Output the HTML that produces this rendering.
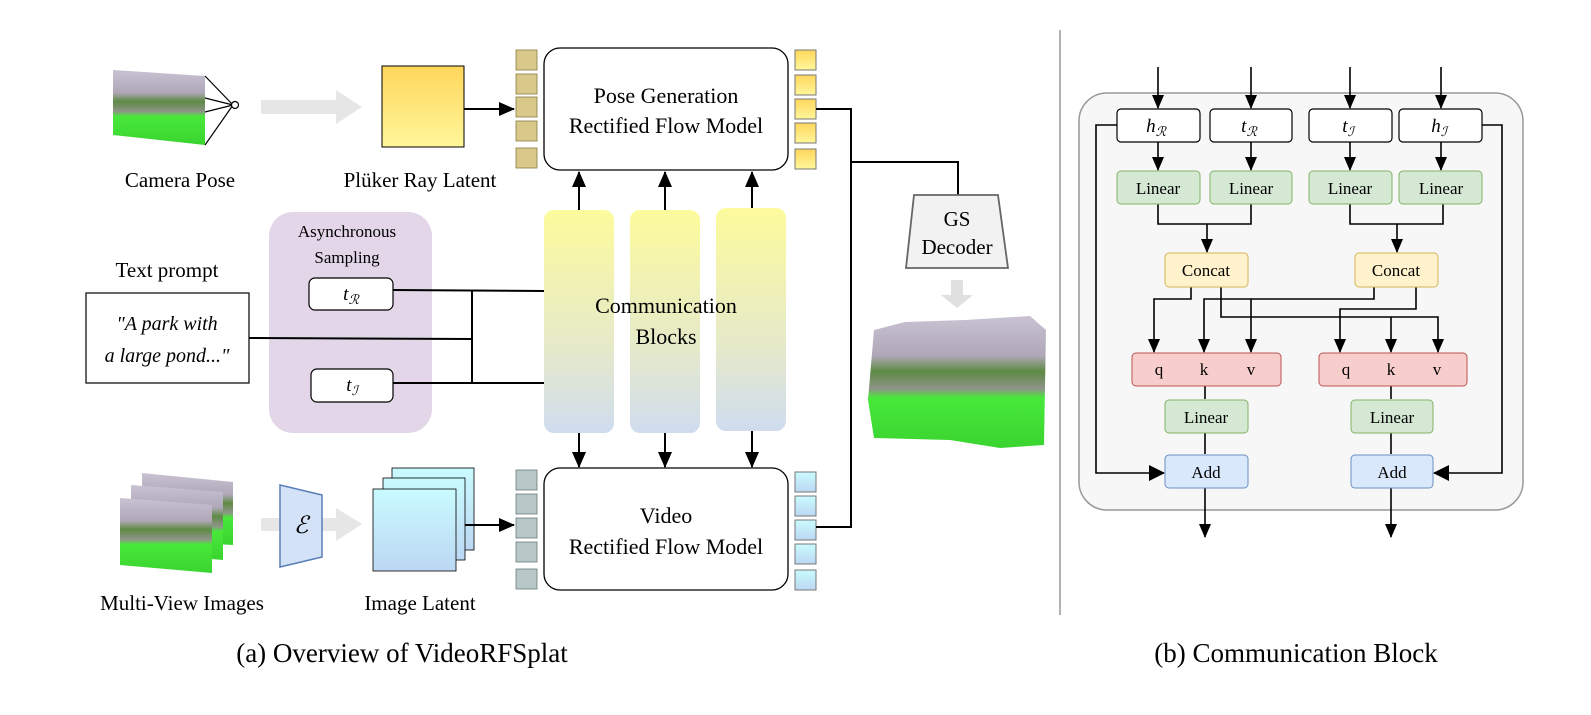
<!DOCTYPE html>
<html><head><meta charset="utf-8"><style>
body{margin:0;background:#fff}
svg{display:block;font-family:"Liberation Serif",serif}
</style></head><body>
<svg width="1591" height="715" viewBox="0 0 1591 715" xmlns="http://www.w3.org/2000/svg">
<defs>
<marker id="ah" markerWidth="16" markerHeight="14" refX="15" refY="7" orient="auto" markerUnits="userSpaceOnUse"><path d="M0,0 L16,7 L0,14 z" fill="#000"/></marker>
<marker id="ahs" markerWidth="14" markerHeight="12" refX="13" refY="6" orient="auto" markerUnits="userSpaceOnUse"><path d="M0,0 L14,6 L0,12 z" fill="#000"/></marker>
<marker id="ahb" markerWidth="16" markerHeight="16" refX="15" refY="8" orient="auto" markerUnits="userSpaceOnUse"><path d="M0,0 L16,8 L0,16 z" fill="#000"/></marker>
<linearGradient id="yel" x1="0" y1="0" x2="0" y2="1"><stop offset="0" stop-color="#ffd65c"/><stop offset="1" stop-color="#fff79a"/></linearGradient>
<linearGradient id="cyan" x1="0" y1="0" x2="0" y2="1"><stop offset="0" stop-color="#c9fbff"/><stop offset="1" stop-color="#bcd7f2"/></linearGradient>
<linearGradient id="comm" x1="0" y1="0" x2="0" y2="1"><stop offset="0" stop-color="#fdfb9c"/><stop offset="0.6" stop-color="#e6eac8"/><stop offset="1" stop-color="#cfdcef"/></linearGradient>
<linearGradient id="scene" x1="0" y1="0" x2="0" y2="1"><stop offset="0" stop-color="#c8c2d2"/><stop offset="0.3" stop-color="#b0a8b8"/><stop offset="0.42" stop-color="#5e8a44"/><stop offset="0.55" stop-color="#8e9488"/><stop offset="0.62" stop-color="#48e83a"/><stop offset="1" stop-color="#3ad430"/></linearGradient>
</defs>

<!-- Camera pose -->
<path d="M113,70 L205,76 L205,145 L113,135 z" fill="url(#scene)"/>
<g stroke="#000" stroke-width="1.2" fill="none">
<line x1="205" y1="76" x2="233" y2="105"/><line x1="205" y1="145" x2="233" y2="105"/>
<line x1="205" y1="98" x2="233" y2="105"/><line x1="205" y1="112" x2="233" y2="105"/>
<circle cx="235" cy="105" r="3.5" fill="#fff"/>
</g>
<text x="180" y="187" font-size="21" text-anchor="middle">Camera Pose</text>
<path d="M261,100 L336,100 L336,90 L362,107 L336,124 L336,114 L261,114 z" fill="#e6e6e6"/>
<rect x="382" y="66" width="82" height="81" fill="url(#yel)" stroke="#000" stroke-width="1"/>
<text x="420" y="187" font-size="21" text-anchor="middle">Plüker Ray Latent</text>
<line x1="464" y1="109" x2="514" y2="109" stroke="#000" stroke-width="2" marker-end="url(#ah)"/>
<g fill="#d8c98a" stroke="#8a7a40" stroke-width="0.8">
<rect x="516" y="50" width="21" height="20"/><rect x="516" y="74" width="21" height="20"/><rect x="516" y="97" width="21" height="20"/><rect x="516" y="121" width="21" height="20"/><rect x="516" y="148" width="21" height="20"/>
</g>
<rect x="544" y="48" width="244" height="122" rx="16" fill="#fff" stroke="#000" stroke-width="1.3"/>
<text x="666" y="103" font-size="22" text-anchor="middle">Pose Generation</text>
<text x="666" y="133" font-size="22" text-anchor="middle">Rectified Flow Model</text>
<g fill="url(#yel)" stroke="#777" stroke-width="1">
<rect x="795" y="50" width="21" height="20"/><rect x="795" y="75" width="21" height="20"/><rect x="795" y="99" width="21" height="20"/><rect x="795" y="123" width="21" height="20"/><rect x="795" y="149" width="21" height="20"/>
</g>

<!-- Communication blocks -->
<rect x="544" y="210" width="70" height="223" rx="10" fill="url(#comm)"/>
<rect x="630" y="210" width="70" height="223" rx="10" fill="url(#comm)"/>
<rect x="716" y="208" width="70" height="223" rx="10" fill="url(#comm)"/>
<text x="666" y="313" font-size="22" text-anchor="middle">Communication</text>
<text x="666" y="344" font-size="22" text-anchor="middle">Blocks</text>
<g stroke="#000" stroke-width="2">
<line x1="579" y1="210" x2="579" y2="172" marker-end="url(#ah)"/>
<line x1="665" y1="210" x2="665" y2="172" marker-end="url(#ah)"/>
<line x1="752" y1="208" x2="752" y2="172" marker-end="url(#ah)"/>
<line x1="579" y1="433" x2="579" y2="467" marker-end="url(#ah)"/>
<line x1="665" y1="433" x2="665" y2="467" marker-end="url(#ah)"/>
<line x1="752" y1="431" x2="752" y2="467" marker-end="url(#ah)"/>
</g>

<!-- Async sampling -->
<rect x="269" y="212" width="163" height="221" rx="24" fill="#e2d6e8"/>
<text x="347" y="237" font-size="17" text-anchor="middle">Asynchronous</text>
<text x="347" y="263" font-size="17" text-anchor="middle">Sampling</text>
<text x="167" y="277" font-size="21" text-anchor="middle">Text prompt</text>
<rect x="86" y="293" width="163" height="90" fill="#fff" stroke="#000" stroke-width="1.2"/>
<text x="167" y="330" font-size="20" font-style="italic" text-anchor="middle">"A park with</text>
<text x="167" y="362" font-size="20" font-style="italic" text-anchor="middle">a large pond..."</text>
<g stroke="#000" stroke-width="2" fill="none">
<line x1="393" y1="290" x2="544" y2="291"/>
<line x1="249" y1="338" x2="472" y2="339"/>
<line x1="393" y1="383" x2="544" y2="383"/>
<line x1="472" y1="290" x2="472" y2="383"/>
</g>
<rect x="309" y="278" width="84" height="32" rx="6" fill="#fff" stroke="#000" stroke-width="1.2"/>
<text x="351" y="300" font-size="19" text-anchor="middle" font-style="italic">t<tspan font-size="13" dy="4">ℛ</tspan></text>
<rect x="311" y="369" width="82" height="33" rx="6" fill="#fff" stroke="#000" stroke-width="1.2"/>
<text x="352" y="391" font-size="19" text-anchor="middle" font-style="italic">t<tspan font-size="13" dy="4">ℐ</tspan></text>

<!-- Multi-view -->
<path d="M142,473 L233,482 L233,545 L142,540 z" fill="url(#scene)"/>
<path d="M131,485 L223,492 L223,560 L131,552 z" fill="url(#scene)"/>
<path d="M120,498 L212,505 L212,573 L120,565 z" fill="url(#scene)"/>
<text x="182" y="610" font-size="21" text-anchor="middle">Multi-View Images</text>
<path d="M261,518 L336,518 L336,508 L362,524 L336,541 L336,531 L261,531 z" fill="#e6e6e6"/>
<path d="M280,485 L322,495 L322,557 L280,567 z" fill="#d3e2f6" stroke="#5a7fb8" stroke-width="1.5"/>
<text x="301" y="533" font-size="24" font-style="italic" text-anchor="middle">ℰ</text>
<rect x="392" y="468" width="82" height="82" fill="url(#cyan)" stroke="#000" stroke-width="0.8"/>
<rect x="383" y="478" width="82" height="82" fill="url(#cyan)" stroke="#000" stroke-width="0.8"/>
<rect x="373" y="489" width="83" height="82" fill="url(#cyan)" stroke="#000" stroke-width="0.8"/>
<text x="420" y="610" font-size="21" text-anchor="middle">Image Latent</text>
<line x1="465" y1="525" x2="514" y2="525" stroke="#000" stroke-width="2" marker-end="url(#ah)"/>
<g fill="#b8c8c8" stroke="#6a7a7a" stroke-width="0.8">
<rect x="516" y="470" width="21" height="20"/><rect x="516" y="494" width="21" height="20"/><rect x="516" y="518" width="21" height="20"/><rect x="516" y="542" width="21" height="20"/><rect x="516" y="569" width="21" height="20"/>
</g>
<rect x="544" y="468" width="244" height="122" rx="16" fill="#fff" stroke="#000" stroke-width="1.3"/>
<text x="666" y="523" font-size="22" text-anchor="middle">Video</text>
<text x="666" y="554" font-size="22" text-anchor="middle">Rectified Flow Model</text>
<g fill="url(#cyan)" stroke="#777" stroke-width="1">
<rect x="795" y="472" width="21" height="20"/><rect x="795" y="496" width="21" height="20"/><rect x="795" y="520" width="21" height="20"/><rect x="795" y="544" width="21" height="20"/><rect x="795" y="570" width="21" height="20"/>
</g>

<!-- GS decoder -->
<g stroke="#000" stroke-width="2" fill="none">
<polyline points="816,109 851,109 851,527 816,527"/>
<polyline points="851,162 958,162 958,195"/>
</g>
<path d="M914,195 L998,195 L1008,268 L906,268 z" fill="#f2f2f2" stroke="#666" stroke-width="1.8"/>
<text x="957" y="226" font-size="21" text-anchor="middle">GS</text>
<text x="957" y="254" font-size="21" text-anchor="middle">Decoder</text>
<path d="M951,280 L963,280 L963,295 L973,295 L957,308 L941,295 L951,295 z" fill="#e0e0e0"/>
<path d="M874,330 L905,322 L965,320 L1030,316 L1046,330 L1044,445 L1000,448 L950,440 L874,438 L868,400 z" fill="url(#scene)"/>

<line x1="1060" y1="30" x2="1060" y2="615" stroke="#888" stroke-width="1.3"/>
<text x="402" y="662" font-size="27" text-anchor="middle">(a) Overview of VideoRFSplat</text>
<text x="1296" y="662" font-size="27" text-anchor="middle">(b)  Communication Block</text>

<!-- Right panel -->
<rect x="1079" y="93" width="444" height="417" rx="28" fill="#f7f7f7" stroke="#999" stroke-width="1.5"/>
<g stroke="#000" stroke-width="1.6" fill="none">
<line x1="1158" y1="67" x2="1158" y2="108" marker-end="url(#ahs)"/>
<line x1="1251" y1="67" x2="1251" y2="108" marker-end="url(#ahs)"/>
<line x1="1350" y1="67" x2="1350" y2="108" marker-end="url(#ahs)"/>
<line x1="1441" y1="67" x2="1441" y2="108" marker-end="url(#ahs)"/>
<line x1="1158" y1="142" x2="1158" y2="170" marker-end="url(#ahs)"/>
<line x1="1251" y1="142" x2="1251" y2="170" marker-end="url(#ahs)"/>
<line x1="1350" y1="142" x2="1350" y2="170" marker-end="url(#ahs)"/>
<line x1="1441" y1="142" x2="1441" y2="170" marker-end="url(#ahs)"/>
<polyline points="1158,204 1158,224 1251,224 1251,204"/>
<polyline points="1350,204 1350,224 1443,224 1443,204"/>
<line x1="1207" y1="224" x2="1207" y2="252" marker-end="url(#ahs)"/>
<line x1="1397" y1="224" x2="1397" y2="252" marker-end="url(#ahs)"/>
<polyline points="1191,287 1191,299 1154,299 1154,352" marker-end="url(#ahs)"/>
<polyline points="1374,287 1374,299 1204,299 1204,352" marker-end="url(#ahs)"/>
<line x1="1251" y1="299" x2="1251" y2="352" marker-end="url(#ahs)"/>
<polyline points="1221,287 1221,317 1438,317 1438,352" marker-end="url(#ahs)"/>
<line x1="1391" y1="317" x2="1391" y2="352" marker-end="url(#ahs)"/>
<polyline points="1416,287 1416,309 1340,309 1340,352" marker-end="url(#ahs)"/>
<line x1="1205" y1="386" x2="1205" y2="399"/>
<line x1="1391" y1="386" x2="1391" y2="399"/>
<line x1="1205" y1="433" x2="1205" y2="454"/>
<line x1="1391" y1="433" x2="1391" y2="454"/>
<line x1="1205" y1="488" x2="1205" y2="537" marker-end="url(#ahs)"/>
<line x1="1391" y1="488" x2="1391" y2="537" marker-end="url(#ahs)"/>
<polyline points="1117,125 1096,125 1096,473 1164,473" marker-end="url(#ahb)"/>
<polyline points="1482,125 1502,125 1502,473 1434,473" marker-end="url(#ahb)"/>
</g>
<g stroke="#000" stroke-width="1.2" fill="#fff">
<rect x="1117" y="109" width="83" height="33" rx="4"/>
<rect x="1210" y="109" width="82" height="33" rx="4"/>
<rect x="1309" y="109" width="83" height="33" rx="4"/>
<rect x="1399" y="109" width="83" height="33" rx="4"/>
</g>
<g font-size="19" font-style="italic" text-anchor="middle">
<text x="1156" y="132">h<tspan font-size="13" dy="4">ℛ</tspan></text>
<text x="1249" y="132">t<tspan font-size="13" dy="4">ℛ</tspan></text>
<text x="1348" y="132">t<tspan font-size="13" dy="4">ℐ</tspan></text>
<text x="1439" y="132">h<tspan font-size="13" dy="4">ℐ</tspan></text>
</g>
<g fill="#d5e8d4" stroke="#82b366" stroke-width="1">
<rect x="1117" y="171" width="83" height="33" rx="4"/>
<rect x="1210" y="171" width="82" height="33" rx="4"/>
<rect x="1309" y="171" width="83" height="33" rx="4"/>
<rect x="1399" y="171" width="83" height="33" rx="4"/>
<rect x="1165" y="400" width="83" height="33" rx="4"/>
<rect x="1351" y="400" width="82" height="33" rx="4"/>
</g>
<g fill="#fff2cc" stroke="#d6b656" stroke-width="1">
<rect x="1165" y="253" width="83" height="34" rx="4"/>
<rect x="1355" y="253" width="83" height="34" rx="4"/>
</g>
<g fill="#f8cecc" stroke="#b85450" stroke-width="1">
<rect x="1132" y="353" width="149" height="33" rx="4"/>
<rect x="1319" y="353" width="148" height="33" rx="4"/>
</g>
<g fill="#dae8fc" stroke="#6c8ebf" stroke-width="1">
<rect x="1165" y="455" width="83" height="33" rx="4"/>
<rect x="1351" y="455" width="82" height="33" rx="4"/>
</g>
<g font-size="17" text-anchor="middle">
<text x="1158" y="194">Linear</text><text x="1251" y="194">Linear</text><text x="1350" y="194">Linear</text><text x="1441" y="194">Linear</text>
<text x="1206" y="276">Concat</text><text x="1396" y="276">Concat</text>
<text x="1159" y="375">q</text><text x="1204" y="375">k</text><text x="1251" y="375">v</text>
<text x="1346" y="375">q</text><text x="1391" y="375">k</text><text x="1437" y="375">v</text>
<text x="1206" y="423">Linear</text><text x="1392" y="423">Linear</text>
<text x="1206" y="478">Add</text><text x="1392" y="478">Add</text>
</g>
</svg>
</body></html>
